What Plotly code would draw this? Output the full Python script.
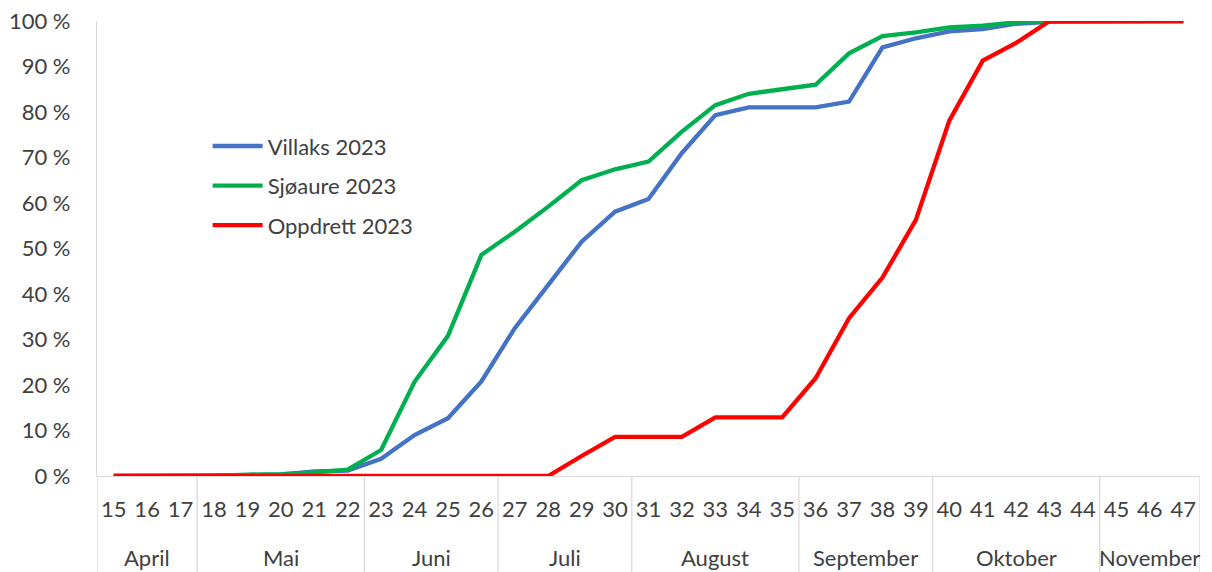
import plotly.graph_objects as go

weeks = list(range(15, 48))
villaks = [0, 0, 0, 0, 0.2, 0.3, 1.0, 1.2, 3.8, 9.0, 12.7, 20.8, 32.5, 42.0, 51.5, 58.1,
           60.9, 71.0, 79.3, 81.0, 81.0, 81.0, 82.3, 94.2, 96.2, 97.7, 98.2, 99.4, 99.8,
           99.8, 100, 100, 100]
sjoaure = [0, 0, 0, 0, 0.3, 0.4, 0.8, 1.4, 5.7, 20.7, 30.8, 48.6, 53.7, 59.2, 65.0, 67.4,
           69.1, 75.7, 81.5, 84.0, 85.0, 86.0, 92.9, 96.7, 97.5, 98.6, 99.0, 99.7, 100,
           100, 100, 100, 100]
oppdrett = [0, 0, 0, 0, 0, 0, 0, 0, 0, 0, 0, 0, 0, 0, 4.4, 8.6,
            8.6, 8.6, 12.9, 12.9, 12.9, 21.5, 34.7, 43.6, 56.3, 78.1, 91.3, 95.2, 100,
            100, 100, 100, 100]
months = ["April", "Mai", "Juni", "Juli", "August", "September", "Oktober", "November"]
month_first = [15, 18, 23, 27, 31, 36, 40, 45]
month_last = [17, 22, 26, 30, 35, 39, 44, 47]
y_ticks = list(range(0, 101, 10))

series = [("Villaks 2023", villaks, "#4472C4"),
          ("Sjøaure 2023", sjoaure, "#00B050"),
          ("Oppdrett 2023", oppdrett, "#FF0000")]

fig = go.Figure()
for i, (name, vals, col) in enumerate(series):
    fig.add_trace(go.Scatter(x=weeks, y=vals, mode="lines", name=name,
                             legendgroup=str(i),
                             line=dict(color=col, width=4.3)))

font = "Lato, 'Liberation Sans', sans-serif"
grey = "#d9d9d9"
txt = "#404040"
plot_h = 572 - 21 - 96
bottom = -96 / plot_h

shapes = []
for x0 in [14.5] + [f - 0.5 for f in month_first[1:]] + [47.5]:
    shapes.append(dict(type="line", xref="x", yref="paper", x0=x0, x1=x0,
                       y0=0, y1=bottom, line=dict(color=grey, width=1.3)))

annotations = []
for m, a, b in zip(months, month_first, month_last):
    annotations.append(dict(x=(a + b) / 2, y=-81 / plot_h, xref="x", yref="paper",
                            text=m, showarrow=False, yanchor="middle",
                            font=dict(family=font, size=22, color=txt)))

fig.update_layout(
    width=1212, height=572,
    margin=dict(l=97, r=12, t=21, b=96),
    paper_bgcolor="white", plot_bgcolor="white",
    font=dict(family=font, size=22, color=txt),
    showlegend=True,
    legend=dict(x=0.1003, y=0.771, xanchor="left", yanchor="top",
                bgcolor="rgba(0,0,0,0)", font=dict(size=22, color=txt),
                tracegroupgap=8, itemwidth=50),
    xaxis=dict(range=[14.5, 47.5], tickmode="array", tickvals=weeks,
               ticktext=[str(w) for w in weeks], showgrid=False, zeroline=False,
               showline=True, linecolor=grey, linewidth=1.3, ticks="",
               automargin=False, ticklabelstandoff=13, tickfont=dict(size=22)),
    yaxis=dict(range=[0, 100], tickmode="array", tickvals=y_ticks,
               ticktext=[f"{v} %" for v in y_ticks], showgrid=False, zeroline=False,
               showline=True, linecolor=grey, linewidth=1.3, ticks="",
               automargin=False, ticklabelstandoff=21, tickfont=dict(size=22)),
    shapes=shapes, annotations=annotations,
)
fig.write_html("out.html", config={"displayModeBar": False},
               post_script="document.body.style.margin='0';")
